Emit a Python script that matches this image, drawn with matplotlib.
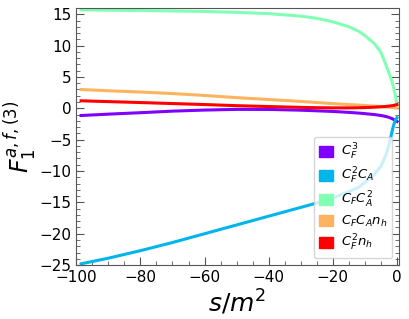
import matplotlib
matplotlib.use('Agg')
import matplotlib.pyplot as plt
import matplotlib.patches as mpatches
import numpy as np

plt.rc('font', size=11)

s = [-98.5, -90, -80, -70, -60, -50, -40, -30, -25, -20, -15, -12, -10, -7, -5, -3.5, -2.5, -1.5, -1, -0.5, 0]

cf3 = [-1.15, -0.93, -0.7, -0.45, -0.28, -0.17, -0.18, -0.3, -0.4, -0.5, -0.65, -0.76, -0.85, -1.0, -1.15, -1.3, -1.45, -1.65, -1.8, -1.95, -2.1]
cf2ca = [-24.8, -23.9, -22.7, -21.4, -20.0, -18.6, -17.2, -15.8, -15.1, -14.3, -13.3, -12.6, -11.8, -10.5, -9.2, -7.5, -5.9, -3.6, -2.6, -1.9, -1.5]
cfca2 = [15.7, 15.65, 15.6, 15.52, 15.45, 15.3, 15.1, 14.7, 14.35, 13.8, 13.0, 12.3, 11.6, 10.3, 8.9, 7.0, 5.6, 4.2, 3.2, 2.0, 0.5]
cfcanh = [3.0, 2.8, 2.6, 2.35, 2.05, 1.7, 1.4, 1.1, 0.92, 0.75, 0.6, 0.52, 0.45, 0.35, 0.28, 0.22, 0.18, 0.14, 0.1, 0.08, 0.05]
cf2nh = [1.2, 1.07, 0.92, 0.76, 0.6, 0.42, 0.28, 0.15, 0.1, 0.07, 0.07, 0.09, 0.12, 0.18, 0.24, 0.3, 0.36, 0.42, 0.47, 0.53, 0.6]

series = [cf3, cf2ca, cfca2, cfcanh, cf2nh]
labels = [r'$C_F^3$', r'$C_F^2C_A$', r'$C_FC_A^2$', r'$C_FC_An_h$', r'$C_F^2n_h$']
colors = plt.cm.rainbow(np.linspace(0, 1, 5))

fig = plt.figure(figsize=(4.1, 3.19), dpi=100)
ax = fig.add_axes([0.186, 0.169, 0.787, 0.806])

for y, c in zip(series, colors):
    ax.plot(s, y, color=c, lw=2.2)

ax.set_xlim(-100, 0.6)
ax.set_ylim(-25, 16)
ax.set_xticks([-100, -80, -60, -40, -20, 0])
ax.set_yticks([-25, -20, -15, -10, -5, 0, 5, 10, 15])
ax.minorticks_on()
ax.tick_params(which='both', direction='in', right=True, color='#555555')
ax.tick_params(which='major', length=6)
ax.tick_params(which='minor', length=3)
for sp in ax.spines.values():
    sp.set_color('#555555')

ax.set_xlabel(r'$s/m^2$', fontsize=18, labelpad=2)
ax.set_ylabel(r'$F_1^{a,f,(3)}$', fontsize=17, labelpad=0)

handles = [mpatches.Patch(color=c, label=l) for c, l in zip(colors, labels)]
ax.legend(handles=handles, loc='lower right', fontsize=9.5, handlelength=1.0,
          handleheight=0.9, handletextpad=0.6, labelspacing=0.3, borderpad=0.4)

fig.savefig('out.png', dpi=100)
